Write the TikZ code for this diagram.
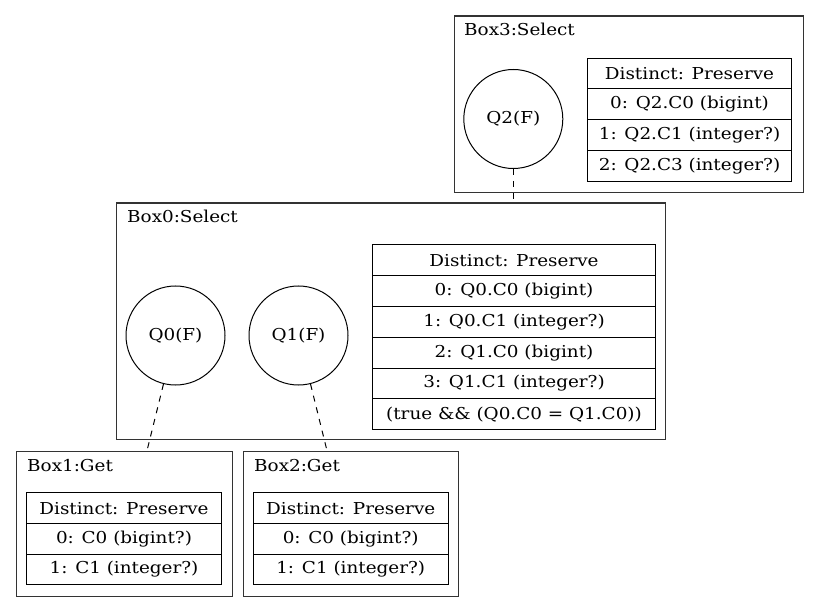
\documentclass[tikz,border=0pt]{standalone}
\usepackage{fontspec}
\setmainfont{DejaVu Serif}[FakeStretch=1.12]
\begin{document}
\begin{tikzpicture}[x=1pt,y=-1pt,
  every node/.style={font=\fontsize{16.4}{18}\selectfont},
  cluster/.style={draw=black!80, line width=1.1pt, anchor=north west, inner sep=0},
  cllabel/.style={anchor=base west, inner sep=0},
  row/.style={draw, line width=1pt, anchor=north west, inner sep=0},
  qnode/.style={circle, draw, line width=1pt, minimum size=99pt, inner sep=0},
  edge/.style={line width=1pt, dash pattern=on 6pt off 6pt}]
\useasboundingbox (0,0) rectangle (819,612);
% clusters
\node[cluster, minimum width=349.5pt, minimum height=176.5pt] (box3) at (453.5,15.5) {};
\node[cluster, minimum width=548.8pt, minimum height=236.5pt] (box0) at (115.7,202.5) {};
\node[cluster, minimum width=216pt, minimum height=144.8pt] (box1) at (15.7,450.7) {};
\node[cluster, minimum width=215.3pt, minimum height=144.8pt] (box2) at (242.7,450.7) {};
\node[cllabel] (l3) at (464,36) {Box3:Select};
\node[cllabel] (l0) at (127,223) {Box0:Select};
\node[cllabel] (l1) at (27,471) {Box1:Get};
\node[cllabel] (l2) at (254,471) {Box2:Get};
% circles
\node[qnode] (q2) at (513.3,119) {Q2(F)};
\node[qnode] (q0) at (175.5,335.5) {Q0(F)};
\node[qnode] (q1) at (298.5,335.5) {Q1(F)};
% box3 table
\begin{scope}[every node/.append style={row, minimum width=203.4pt, minimum height=30.75pt}]
\node (t3a) at (587.3,57.7) {Distinct: Preserve};
\node (t3b) at (587.3,88.45) {0: Q2.C0 (bigint)};
\node (t3c) at (587.3,119.2) {1: Q2.C1 (integer?)};
\node (t3d) at (587.3,149.95) {2: Q2.C3 (integer?)};
\end{scope}
% box0 table
\begin{scope}[every node/.append style={row, minimum width=283pt, minimum height=30.8pt}]
\node (t0a) at (372,244.3) {Distinct: Preserve};
\node (t0b) at (372,275.1) {0: Q0.C0 (bigint)};
\node (t0c) at (372,305.9) {1: Q0.C1 (integer?)};
\node (t0d) at (372,336.7) {2: Q1.C0 (bigint)};
\node (t0e) at (372,367.5) {3: Q1.C1 (integer?)};
\node (t0f) at (372,398.3) {(true \&\& (Q0.C0 = Q1.C0))};
\end{scope}
% box1 and box2 tables
\begin{scope}[every node/.append style={row, minimum width=195pt, minimum height=30.7pt}]
\node (t1a) at (26,492.3) {Distinct: Preserve};
\node (t1b) at (26,523) {0: C0 (bigint?)};
\node (t1c) at (26,553.7) {1: C1 (integer?)};
\node (t2a) at (252.7,492.3) {Distinct: Preserve};
\node (t2b) at (252.7,523) {0: C0 (bigint?)};
\node (t2c) at (252.7,553.7) {1: C1 (integer?)};
\end{scope}
% edges
\coordinate (e2) at (513.3,202.5);
\coordinate (e0) at (147,450.7);
\coordinate (e1) at (327,450.7);
\draw[edge] (q2) -- (e2);
\draw[edge] (q0) -- (e0);
\draw[edge] (q1) -- (e1);
\end{tikzpicture}
\end{document}
